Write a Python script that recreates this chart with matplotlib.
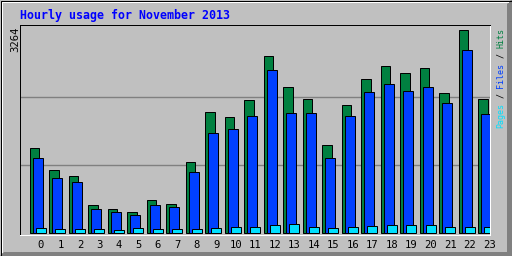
import matplotlib
matplotlib.use("Agg")
from matplotlib import pyplot as plt
from matplotlib.patches import Polygon
import numpy as np

# Hourly usage, November 2013
hours = list(range(24))
hits = [1355, 1003, 907, 443, 379, 331, 523, 459, 1131, 1931, 1851, 2123,
        2843, 2347, 2139, 1403, 2043, 2475, 2683, 2571, 2651, 2251, 3264, 2139]
files = [1195, 875, 811, 379, 331, 283, 443, 411, 971, 1595, 1659, 1867,
         2619, 1915, 1915, 1195, 1867, 2267, 2395, 2283, 2347, 2075, 2939, 1899]
pages = [75, 59, 59, 59, 43, 75, 59, 59, 59, 80, 96, 96,
         123, 139, 91, 75, 91, 107, 123, 123, 123, 91, 91, 91]
y_max = 3264
title = "Hourly usage for November 2013"

W, H = 512, 256
bg_col = "#C0C0C0"
c_hits, c_files, c_pages = "#008040", "#0040FF", "#00E0FF"
px = 0.72  # one pixel in points at dpi 100
mono = "DejaVu Sans Mono"

fig = plt.figure(figsize=(W / 100, H / 100), dpi=100, facecolor=bg_col)

# bevelled outer frame, drawn in pixel coordinates
bg = fig.add_axes([0, 0, 1, 1], zorder=-1)
bg.set_xlim(0, W)
bg.set_ylim(H, 0)
bg.axis("off")
bg.add_patch(Polygon([(507, 4), (511, 0), (512, 0), (512, 256), (507, 256)],
                     closed=True, color="#808080", lw=0))
bg.add_patch(Polygon([(0, 256), (4, 252), (512, 252), (512, 256)],
                     closed=True, color="#808080", lw=0))
bg.plot([0.5, 0.5, 511], [256, 0.5, 0.5], color="black", lw=px)
bg.plot([1.5, 1.5, 508], [252, 1.5, 1.5], color="white", lw=px)

# plot area
ax = fig.add_axes([20 / W, (H - 235) / H, 470 / W, 210 / H])
ax.set_facecolor(bg_col)
x = np.array(hours, dtype=float)
step = 19.5  # pixels per hour
ax.set_xlim(-9.5 / step, -9.5 / step + 470 / step)
unit = y_max / 203.0
ax.set_ylim(-2.5 * unit, y_max + 4.5 * unit)

for g in (y_max / 3, 2 * y_max / 3):
    ax.axhline(g, color="#808080", lw=1.0, zorder=0)

bw = 9.8 / step
ax.bar(x, hits, width=bw, align="edge", color=c_hits, edgecolor="black", lw=px, zorder=2)
ax.bar(x + 3.3 / step, files, width=bw, align="edge", color=c_files, edgecolor="black", lw=px, zorder=3)
ax.bar(x + 6.3 / step, pages, width=bw, align="edge", color=c_pages, edgecolor="black", lw=px, zorder=4)

for s in ("left", "top"):
    ax.spines[s].set_color("black")
    ax.spines[s].set_linewidth(px)
for s in ("right", "bottom"):
    ax.spines[s].set_color("white")
    ax.spines[s].set_linewidth(px)

ax.set_yticks([])
ax.set_xticks(x + 11.5 / step)
ax.set_xticklabels([str(h) for h in hours], family=mono, fontsize=7.6)
ax.tick_params(axis="x", length=0, pad=3.5)

# texts
fig.text(20 / W, 1 - 15.5 / H, title, ha="left", va="center", family=mono,
         fontweight="bold", fontsize=8.4, color="#0000FF")
fig.text(15 / W, 1 - 27 / H, str(y_max), rotation=90, rotation_mode="anchor",
         ha="right", va="center", family=mono, fontsize=7.6, color="black")

# "Pages / Files / Hits", each word in its own colour, reading upwards
leg_size = 6.0
char_px = 0.602 * leg_size * 100 / 72
parts = [("Pages", 0, c_pages), ("/", 6, "black"), ("Files", 8, c_files),
         ("/", 14, "black"), ("Hits", 16, c_hits)]
for word, pos, col in parts:
    y0 = 128 - pos * char_px
    fig.text(501 / W, 1 - y0 / H, word, rotation=90, rotation_mode="anchor",
             ha="left", va="center", family=mono, fontsize=leg_size, color=col)

plt.savefig("out.png", dpi=100, facecolor=bg_col)
